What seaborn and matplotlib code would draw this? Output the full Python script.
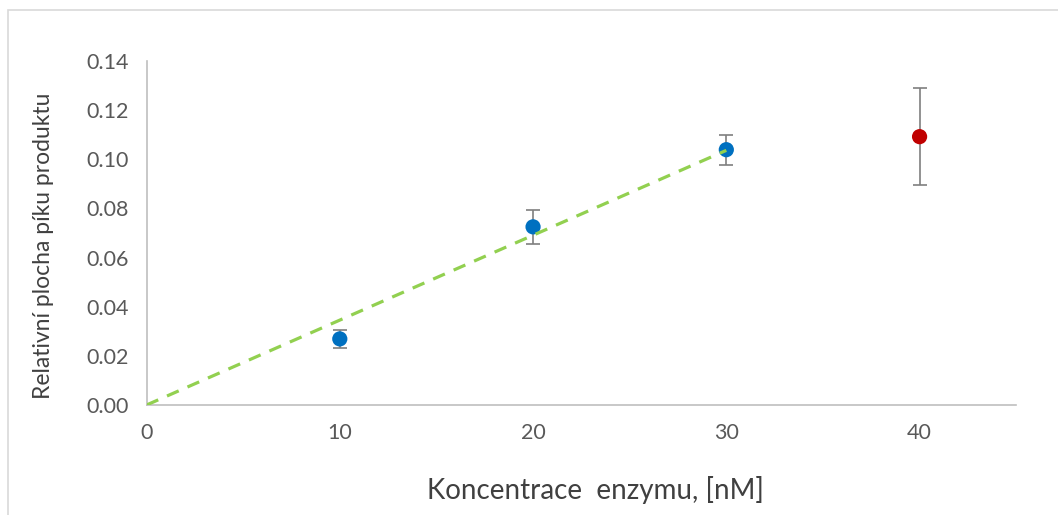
import numpy as np
import pandas as pd
import matplotlib
matplotlib.use('Agg')
import matplotlib.pyplot as plt
import seaborn as sns
from matplotlib.patches import Rectangle

# values
conc = [10, 20, 30]
area = [0.0269, 0.0725, 0.1039]
area_err = [0.0036, 0.0070, 0.0061]

outlier_conc = [40]
outlier_area = [0.1092]
outlier_err = [0.0196]

x_ticks = [0, 10, 20, 30, 40]
y_ticks = [0.00, 0.02, 0.04, 0.06, 0.08, 0.10, 0.12, 0.14]

df = pd.DataFrame({'conc': conc, 'area': area, 'err': area_err})

# trend line through origin, fitted on the three blue points
slope = np.sum(df['conc'] * df['area']) / np.sum(df['conc'] ** 2)
trend = pd.DataFrame({'conc': [0, conc[-1]], 'area': [0, slope * conc[-1]]})

sns.set_style('white')
plt.rcParams['font.family'] = ['Lato', 'DejaVu Sans']

fig = plt.figure(figsize=(10.58, 5.15), dpi=100)
ax = fig.add_axes([0.1385, 0.2136, 0.822, 0.668])

grey = '#7f7f7f'
txt = '#404040'

sns.lineplot(data=trend, x='conc', y='area', ax=ax, color='#92D050',
             linewidth=2.3, linestyle=(0, (4, 3)), zorder=3)

ax.errorbar(df['conc'], df['area'], yerr=df['err'], fmt='none',
            ecolor=grey, elinewidth=1.2, capsize=5, capthick=1.2, zorder=2)
ax.errorbar(outlier_conc, outlier_area, yerr=outlier_err, fmt='none',
            ecolor=grey, elinewidth=1.2, capsize=5, capthick=1.2, zorder=2)

sns.scatterplot(data=df, x='conc', y='area', ax=ax, color='#0070C0',
                s=120, edgecolor='none', zorder=2.5)
sns.scatterplot(x=outlier_conc, y=outlier_area, ax=ax, color='#C00000',
                s=120, edgecolor='none', zorder=4)

ax.set_xlim(0, 45)
ax.set_ylim(0, 0.14)
ax.set_xticks(x_ticks)
ax.set_yticks(y_ticks)
ax.set_yticklabels([f'{v:.2f}' for v in y_ticks])

for side in ['top', 'right']:
    ax.spines[side].set_visible(False)
for side in ['left', 'bottom']:
    ax.spines[side].set_color('#bfbfbf')
    ax.spines[side].set_linewidth(1.2)

ax.tick_params(axis='both', which='major', direction='out', length=6,
               width=1.2, color='#bfbfbf', labelsize=15.5, labelcolor='#595959')
ax.tick_params(axis='x', pad=7)
ax.tick_params(axis='y', pad=7)

ax.set_xlabel('Koncentrace  enzymu, [nM]', fontsize=20, color=txt)
ax.set_ylabel('Relativní plocha píku produktu', fontsize=16.5, color=txt)
ax.xaxis.label.set_va('center')
ax.yaxis.label.set_va('center')
ax.xaxis.set_label_coords(0.516, -0.247)
ax.yaxis.set_label_coords(-0.119, 0.462)

# chart-area frame (cropped on right/bottom as in the reference)
fig.patches.append(Rectangle((8 / 1058, -0.1), 1.2, 1 - 10 / 515 + 0.1,
                             transform=fig.transFigure, fill=False,
                             edgecolor='#d9d9d9', linewidth=1.2))

fig.savefig('out.png', dpi=100)
